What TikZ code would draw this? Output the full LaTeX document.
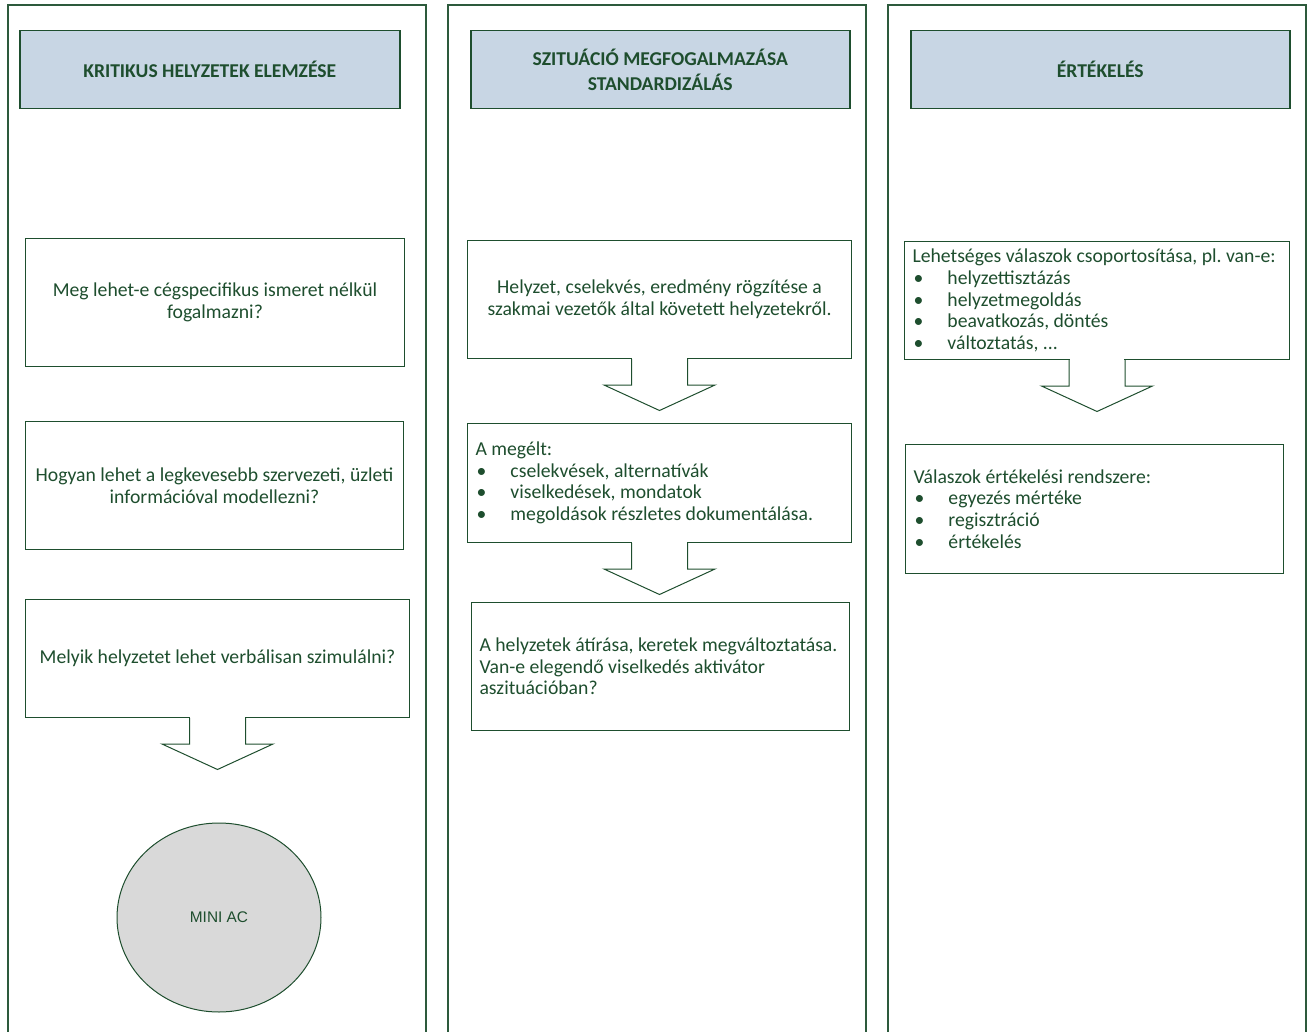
\documentclass[tikz,border=0pt]{standalone}
\usepackage{fontspec}
\setmainfont{Carlito}
\newfontfamily\arialfont{Liberation Sans}
\usetikzlibrary{shapes.geometric,calc}
\definecolor{ink}{RGB}{30,78,46}
\definecolor{lanerule}{RGB}{45,90,60}
\definecolor{headfill}{RGB}{200,214,228}
\definecolor{discfill}{RGB}{217,217,217}
\frenchspacing
% bullet with its hanging indent
\newcommand{\bul}{\makebox[35pt][l]{\hspace{1pt}\textbullet}}
% outlined down arrow hanging from the bottom edge of a box
\newcommand{\blockarrow}[1]{%
  \fill[white] ($(#1.south)+(-27.4,-1.2)$) rectangle ($(#1.south)+(27.4,1.2)$);
  \draw[edge] ($(#1.south)+(-28,0)$) -- ++(0,26) -- ++(-27.5,0)
     -- ($(#1.south)+(0,51.5)$) -- ($(#1.south)+(55.5,26)$) -- ++(-27.5,0)
     -- ($(#1.south)+(28,0)$);
}
\tikzset{
  lane/.style={draw=lanerule, line width=1.1pt},
  head/.style={draw=ink, line width=1.5pt, fill=headfill, anchor=north west,
    inner sep=0pt, minimum height=78pt, text=ink, align=center,
    font=\fontsize{19.6}{25}\selectfont\bfseries},
  box/.style={draw=ink, line width=1pt, fill=white, anchor=north west,
    inner sep=0pt, text=ink, font=\fontsize{19.7}{21.7}\selectfont},
  ctext/.style={box, align=center},
  ltext/.style={box, align=flush left, inner xsep=8pt},
  edge/.style={draw=ink, line width=1pt, line join=miter},
  disc/.style={ellipse, draw=ink, line width=1pt, fill=discfill,
    minimum width=204pt, minimum height=189pt, inner sep=0pt, text=ink,
    font=\arialfont\fontsize{15.4}{18}\selectfont},
}
\begin{document}
\begin{tikzpicture}[x=1pt, y=-1pt]
\useasboundingbox (0,0) rectangle (1311,1032);

% three lanes, open at the bottom
\draw[lane] (8,1036) -- (8,5) -- (426,5) -- (426,1036);
\draw[lane] (448,1036) -- (448,5) -- (866,5) -- (866,1036);
\draw[lane] (888,1036) -- (888,5) -- (1306,5) -- (1306,1036);

% lane headers
\node[head, minimum width=380pt] (h1) at (19,30) {KRITIKUS HELYZETEK ELEMZÉSE};
\node[head, minimum width=379pt] (h2) at (470,30) {SZITUÁCIÓ MEGFOGALMAZÁSA\\STANDARDIZÁLÁS};
\node[head, minimum width=379pt] (h3) at (910,30) {ÉRTÉKELÉS};

% first lane
\node[ctext, minimum width=379pt, minimum height=128pt] (a1) at (25,238)
  {Meg lehet-e cégspecifikus ismeret nélkül\\fogalmazni?};
\node[ctext, minimum width=378pt, minimum height=128pt] (a2) at (25,421)
  {Hogyan lehet a legkevesebb szervezeti, üzleti\\információval modellezni?};
\node[ctext, minimum width=384pt, minimum height=118pt] (a3) at (25,599)
  {Melyik helyzetet lehet verbálisan szimulálni?};
\blockarrow{a3}
\node[disc] (mini) at (219,917.5) {MINI AC};

% second lane
\node[ctext, minimum width=384pt, minimum height=118pt] (b1) at (467,240)
  {Helyzet, cselekvés, eredmény rögzítése a\\szakmai vezetők által követett helyzetekről.};
\blockarrow{b1}
\node[ltext, minimum width=384pt, text width=368pt, minimum height=119pt] (b2) at (467,423)
  {A megélt:\\
   \bul cselekvések, alternatívák\\
   \bul viselkedések, mondatok\\
   \bul megoldások részletes dokumentálása.};
\blockarrow{b2}
\node[ltext, minimum width=378pt, text width=362pt, minimum height=128pt] (b3) at (471,602)
  {\mbox{A helyzetek átírása, keretek megváltoztatása.}\\
   Van-e elegendő viselkedés aktivátor\\
   aszituációban?};

% third lane
\node[ltext, minimum width=385pt, text width=369pt, minimum height=118pt] (c1) at (904,241)
  {\mbox{Lehetséges válaszok csoportosítása, pl. van-e:}\\
   \bul helyzettisztázás\\
   \bul helyzetmegoldás\\
   \bul beavatkozás, döntés\\
   \bul változtatás, ...};
\blockarrow{c1}
\node[ltext, minimum width=378pt, text width=362pt, minimum height=129pt] (c2) at (905,444)
  {Válaszok értékelési rendszere:\\
   \bul egyezés mértéke\\
   \bul regisztráció\\
   \bul értékelés};
\end{tikzpicture}
\end{document}
